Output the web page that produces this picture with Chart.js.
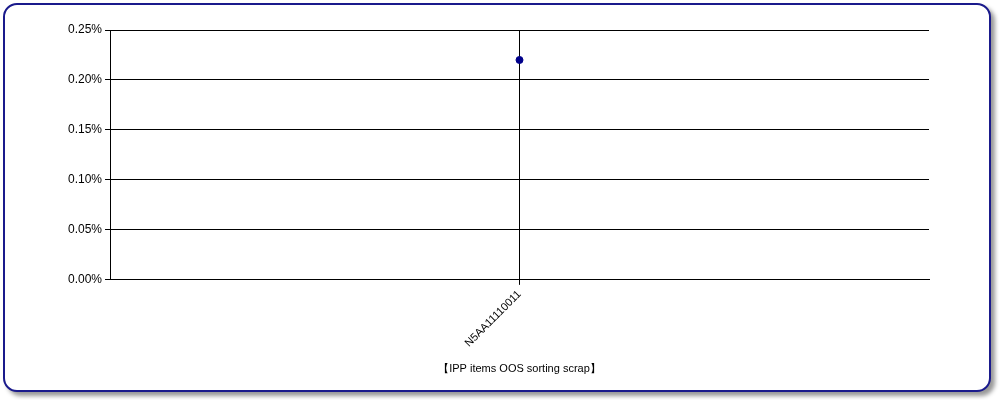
<!DOCTYPE html>
<html><head><meta charset="utf-8">
<script src="https://cdn.jsdelivr.net/npm/chart.js"></script>
<style>
body{margin:0;background:#fff;}
#frame{position:absolute;left:3px;top:3px;width:984px;height:385px;border:2px solid #1a1a8c;border-radius:14px;box-shadow:4px 4px 4px #999;background:#fff;}
#wrap{position:absolute;left:0;top:0;width:1000px;height:400px;}
</style></head><body>
<div id="frame"></div>
<div id="wrap"><canvas id="c"></canvas></div>
<script>
const categories = ['N5AA11110011'];
const values = [0.0022];
const axisTitle = '【IPP items OOS sorting scrap】';

new Chart(document.getElementById('c'), {
  type: 'line',
  data: { labels: categories, datasets: [{ data: values, borderColor: '#00008b', backgroundColor: '#00008b', pointRadius: 3.5, showLine: false }] },
  options: {
    responsive: true, maintainAspectRatio: false, animation: false,
    layout: { padding: { left: 65, right: 71, top: 30, bottom: 20 } },
    plugins: { legend: { display: false }, tooltip: { enabled: false } },
    scales: {
      x: {
        offset: true,
        grid: { color: '#000', offset: false, tickLength: 5 },
        border: { color: '#000' },
        ticks: { color: '#000', minRotation: 45, maxRotation: 45, font: { family: 'Liberation Sans', size: 11 } },
        title: { display: true, text: axisTitle, color: '#000', font: { family: 'Liberation Sans', size: 11 }, padding: { top: 10 } }
      },
      y: {
        min: 0, max: 0.0025,
        grid: { color: '#000', tickLength: 5 },
        border: { color: '#000' },
        ticks: { stepSize: 0.0005, color: '#000', font: { family: 'Liberation Sans', size: 12 }, callback: v => (v * 100).toFixed(2) + '%' }
      }
    }
  }
});
</script></body></html>
